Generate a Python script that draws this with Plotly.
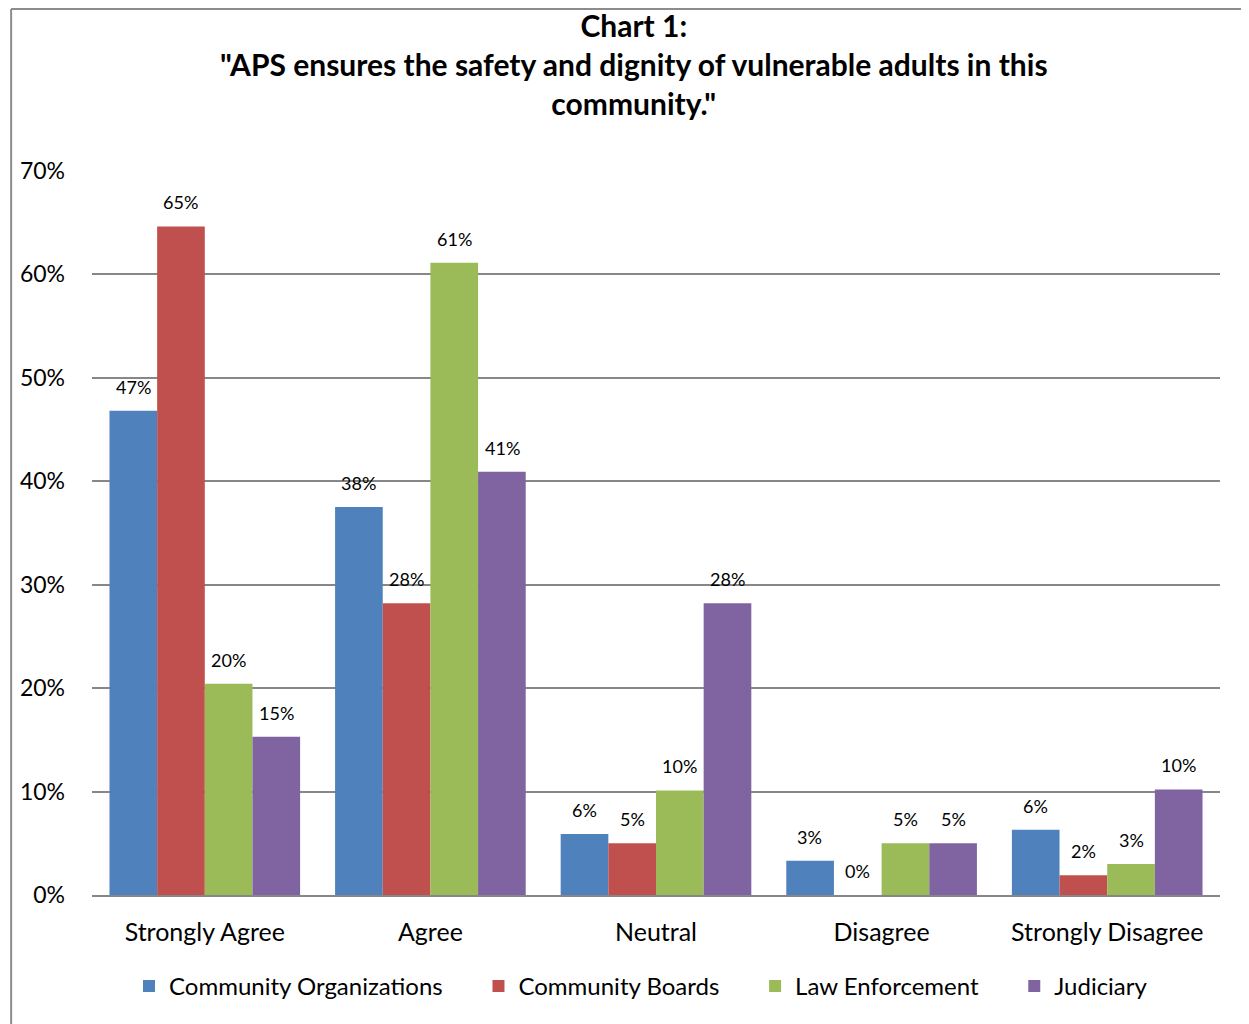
import plotly.graph_objects as go

categories = ["Strongly Agree", "Agree", "Neutral", "Disagree", "Strongly Disagree"]

community_orgs = [0.468, 0.375, 0.059, 0.033, 0.063]
community_boards = [0.646, 0.282, 0.050, 0.0, 0.019]
law_enforcement = [0.204, 0.611, 0.101, 0.050, 0.030]
judiciary = [0.153, 0.409, 0.282, 0.050, 0.102]

series = [
    ("Community Organizations", community_orgs, "#4F81BD"),
    ("Community Boards", community_boards, "#C0504D"),
    ("Law Enforcement", law_enforcement, "#9BBB59"),
    ("Judiciary", judiciary, "#8064A2"),
]

title_text = "<b>Chart 1:<br>\"APS ensures the safety and dignity of vulnerable adults in this<br>community.\"</b>"

FONT = "Lato, Calibri, sans-serif"

# figure is 1241x1016 because the page body adds 8px of margin
W, H = 1241, 1016
L, R, T, B = 82, 29, 162, 129
plot_w = W - L - R
plot_h = H - T - B
bargap = 0.155
bar_px = plot_w / len(categories) * (1 - bargap) / len(series)

fig = go.Figure()

for i, (name, vals, color) in enumerate(series):
    fig.add_trace(go.Bar(
        x=categories,
        y=vals,
        name=name + "\u00a0" * 5,
        marker=dict(color=color, line=dict(width=0)),
        hovertemplate=name + ": %{y:.1%}<extra></extra>",
    ))
    # data labels placed above each bar
    for cat, v in zip(categories, vals):
        fig.add_annotation(
            x=cat, y=v, text=f"{v:.0%}",
            showarrow=False,
            xshift=(i - (len(series) - 1) / 2) * bar_px,
            yshift=24, yanchor="middle",
            font=dict(size=18, color="black", family=FONT),
        )

# title as a paper annotation (middle line centred ~56px from the top)
fig.add_annotation(
    xref="paper", yref="paper",
    x=(625 - L) / plot_w, y=1 + (T - 56) / plot_h,
    xanchor="center", yanchor="middle",
    text=title_text, showarrow=False,
    font=dict(size=30, family=FONT, color="black"),
)

fig.update_layout(
    width=W,
    height=H,
    paper_bgcolor="white",
    plot_bgcolor="white",
    font=dict(family=FONT, color="black"),
    barmode="group",
    bargap=bargap,
    bargroupgap=0,
    margin=dict(l=L, r=R, t=T, b=B),
    legend=dict(
        orientation="h",
        x=0.5, xanchor="center",
        y=-0.126, yanchor="middle",
        font=dict(size=24, family=FONT),
        traceorder="normal",
    ),
    showlegend=True,
)

fig.update_yaxes(
    range=[0, 0.7005],
    dtick=0.1,
    tickformat=".0%",
    showgrid=True,
    gridcolor="#878787",
    gridwidth=1.5,
    zeroline=False,
    showline=False,
    ticks="",
    ticklabelstandoff=26,
    tickfont=dict(size=23, family=FONT),
)

fig.update_xaxes(
    showline=True,
    linecolor="#878787",
    linewidth=2,
    ticks="",
    ticklabelstandoff=14,
    tickfont=dict(size=25, family=FONT),
)

# outer frame edges visible in the reference (left and top)
fig.add_shape(type="line", xref="paper", yref="paper",
              x0=-0.0717, x1=-0.0717, y0=-0.2, y1=1.222,
              line=dict(color="#8c8c8c", width=2))
fig.add_shape(type="line", xref="paper", yref="paper",
              x0=-0.0717, x1=1.03, y0=1.222, y1=1.222,
              line=dict(color="#8c8c8c", width=2))

fig.write_html("out.html")
